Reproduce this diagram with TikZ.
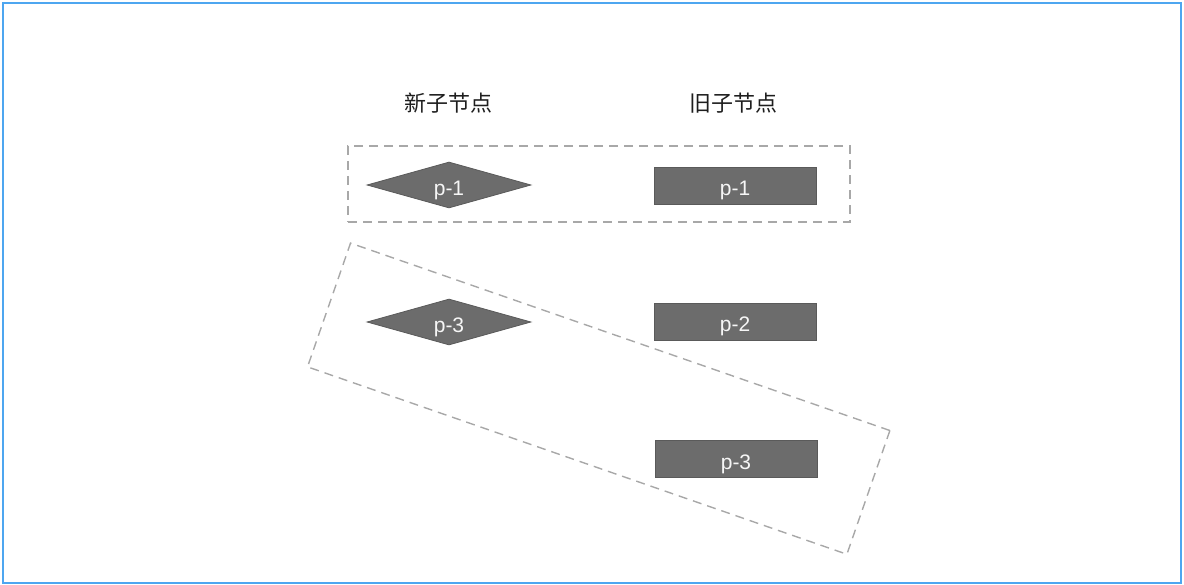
\documentclass[tikz,border=0pt]{standalone}
\usepackage{fontspec}
\setmainfont{Liberation Sans}
\newfontfamily\cjk{Noto Sans CJK SC}
\usepackage{xcolor}
\definecolor{nodegray}{RGB}{108,108,108}
\definecolor{nodeedge}{RGB}{90,90,90}
\definecolor{dashgray}{RGB}{168,168,168}
\definecolor{frameblue}{RGB}{77,166,240}
\definecolor{headblack}{RGB}{30,30,30}
\usepackage{tikz}
\usetikzlibrary{shapes.geometric, positioning}

\begin{document}
\begin{tikzpicture}[x=1pt, y=-1pt,
    newnode/.style={diamond, aspect=3.6, fill=nodegray, draw=nodeedge, line width=0.8pt,
                    minimum width=164pt, minimum height=46pt, inner sep=0pt,
                    text height=21pt, text depth=0pt,
                    font=\fontsize{21}{24}\selectfont, text=white!93!gray},
    oldnode/.style={rectangle, fill=nodegray, draw=nodeedge, line width=0.8pt,
                    minimum width=162pt, minimum height=37pt, inner sep=0pt,
                    text height=21pt, text depth=0pt,
                    font=\fontsize{21}{24}\selectfont, text=white!93!gray},
    header/.style={font=\cjk\fontsize{22}{26}\selectfont, text=headblack},
    groupbox/.style={draw=dashgray, line width=1.4pt, dash pattern=on 9pt off 6pt,
                     fill=none, inner sep=0pt}]
  \useasboundingbox (0,0) rectangle (1184,585);
  % Frame
  \draw[frameblue, line width=2pt] (3,3) rectangle (1180.5,583);

  % Column headers
  \node[header] (hnew) at (448,103) {新子节点};
  \node[header] (hold) at (733,103) {旧子节点};

  % New children (left column)
  \node[newnode] (n1) at (449,185) {p-1};
  \node[newnode] (n3) at (449,322) {p-3};

  % Old children (right column)
  \node[oldnode] (o1) at (735,185.5) {p-1};
  \node[oldnode] (o2) at (735,321.5) {p-2};
  \node[oldnode] (o3) at (736,458.5) {p-3};

  % Matched pairs
  \node[groupbox, rectangle, minimum width=502pt, minimum height=76pt] (g1) at (599,184) {};
  \node[groupbox, rectangle, minimum width=571pt, minimum height=131pt, rotate=-19.16] (g2) at (598.7,398.7) {};
\end{tikzpicture}
\end{document}
